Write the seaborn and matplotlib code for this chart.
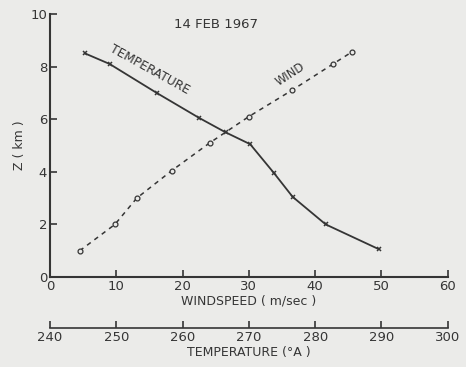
import pandas as pd
import seaborn as sns
import matplotlib.pyplot as plt

# values
wind_speed = [4.5, 9.8, 13.1, 18.4, 24.1, 30.0, 36.5, 42.7, 45.5]
wind_z = [1.0, 2.0, 3.0, 4.05, 5.1, 6.1, 7.1, 8.1, 8.55]
temp_k = [245.3, 249.0, 256.1, 262.5, 266.5, 270.2, 273.8, 276.6, 281.6, 289.6]
temp_z = [8.5, 8.1, 7.0, 6.05, 5.5, 5.05, 3.95, 3.05, 2.0, 1.06]
wind_ticks = [0, 10, 20, 30, 40, 50, 60]
temp_ticks = [240, 250, 260, 270, 280, 290, 300]
z_ticks = [0, 2, 4, 6, 8, 10]


def main():
    sns.set_style('ticks')
    plt.rcParams['font.family'] = ['DejaVu Sans']
    ink = '#353535'
    paper = '#ebebe9'

    wind = pd.DataFrame({'speed': wind_speed, 'z': wind_z})
    temp = pd.DataFrame({'t': temp_k, 'z': temp_z})

    fig = plt.figure(figsize=(4.66, 3.67), dpi=100, facecolor=paper)
    ax = fig.add_axes([0.107, 0.245, 0.854, 0.717])
    ax.set_facecolor(paper)

    sns.lineplot(data=wind, x='speed', y='z', ax=ax, color=ink, lw=1.1,
                 linestyle=(0, (3, 3)), marker='o', markersize=3.5,
                 markerfacecolor=paper, markeredgecolor=ink, markeredgewidth=0.9)
    ax.set_xlim(0, 60)
    ax.set_ylim(0, 10)
    ax.set_xticks(wind_ticks)
    ax.set_yticks(z_ticks)
    ax.set_xlabel('WINDSPEED ( m/sec )', fontsize=9, color=ink, labelpad=1)
    ax.set_ylabel('Z ( km )', fontsize=9, color=ink, labelpad=3)

    ax2 = ax.twiny()
    sns.lineplot(data=temp, x='t', y='z', ax=ax2, color=ink, lw=1.3,
                 marker='x', markersize=3.5, markeredgewidth=1.1,
                 markeredgecolor=ink)
    ax2.set_xlim(240, 300)
    ax2.set_xticks(temp_ticks)
    ax2.xaxis.set_ticks_position('bottom')
    ax2.xaxis.set_label_position('bottom')
    ax2.spines['bottom'].set_position(('outward', 37))
    ax2.set_xlabel('TEMPERATURE (°A )', fontsize=9, color=ink, labelpad=1)
    ax2.set_ylabel('')

    for a in (ax, ax2):
        for s in ('top', 'right'):
            a.spines[s].set_visible(False)
        a.tick_params(direction='in', length=5, width=1.2, colors=ink,
                      labelsize=9.5, pad=2)
    ax2.spines['left'].set_visible(False)
    ax2.spines['bottom'].set_color(ink)
    ax2.spines['bottom'].set_linewidth(1.2)
    ax.spines['left'].set_color(ink)
    ax.spines['bottom'].set_color(ink)
    ax.spines['left'].set_linewidth(1.5)
    ax.spines['bottom'].set_linewidth(1.5)

    ax.text(0.417, 0.96, '14 FEB 1967', transform=ax.transAxes, fontsize=9.5,
            color=ink, ha='center', va='center')
    ax2.text(255.0, 7.9, 'TEMPERATURE', fontsize=8.8, color=ink,
             rotation=-29, ha='center', va='center')
    ax.text(36.3, 7.7, 'WIND', fontsize=8.3, color=ink,
            rotation=33, ha='center', va='center')

    fig.savefig('out.png', dpi=100, facecolor=paper)
    plt.close(fig)


if __name__ == "__main__":
    main()
